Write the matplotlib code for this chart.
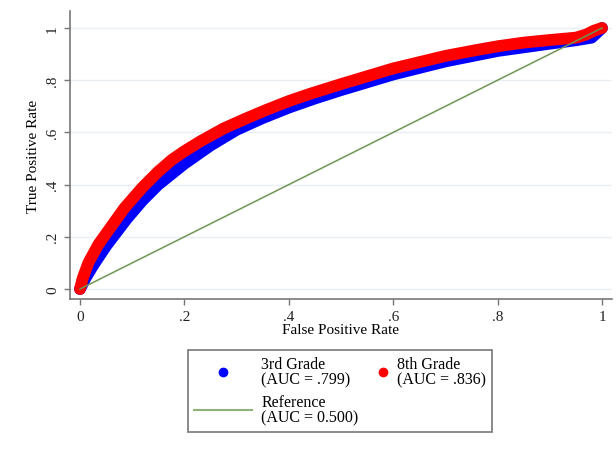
import numpy as np
import matplotlib as mpl
mpl.use('Agg')
import matplotlib.pyplot as plt
from matplotlib.lines import Line2D
from matplotlib.legend_handler import HandlerLine2D

# ROC points for each grade (false positive rate, true positive rate)
fpr_3rd = [0.0, 0.01, 0.025, 0.05, 0.09, 0.12, 0.15, 0.20, 0.25, 0.30, 0.35, 0.40,
           0.45, 0.50, 0.60, 0.70, 0.80, 0.90, 0.95, 0.98, 1.0]
tpr_3rd = [0.0, 0.04, 0.09, 0.165, 0.27, 0.34, 0.40, 0.48, 0.55, 0.61, 0.655, 0.695,
           0.73, 0.762, 0.822, 0.872, 0.912, 0.94, 0.953, 0.963, 1.0]

fpr_8th = [0.0, 0.005, 0.016, 0.035, 0.06, 0.085, 0.12, 0.15, 0.176, 0.20, 0.23, 0.275,
           0.32, 0.358, 0.40, 0.441, 0.50, 0.60, 0.70, 0.75, 0.80, 0.85, 0.90, 0.95,
           0.97, 0.985, 1.0]
tpr_8th = [0.0, 0.04, 0.10, 0.17, 0.24, 0.31, 0.39, 0.45, 0.495, 0.528, 0.565, 0.615,
           0.655, 0.687, 0.72, 0.748, 0.785, 0.845, 0.893, 0.912, 0.93, 0.944, 0.954, 0.963,
           0.975, 0.99, 1.0]

ref_x = [0.0, 1.0]
ref_y = [0.0, 1.0]

labels = ['3rd Grade\n(AUC = .799)', 'Reference\n(AUC = 0.500)', '8th Grade\n(AUC = .836)']
ticks = [0, 0.2, 0.4, 0.6, 0.8, 1.0]
tick_labels = ['0', '.2', '.4', '.6', '.8', '1']

plt.rcParams['font.family'] = ['Liberation Serif', 'DejaVu Serif']
green = '#6f9455'


class HandlerDotRight(HandlerLine2D):
    # put the single marker at the right end of the handle box
    def get_xdata(self, legend, xdescent, ydescent, width, height, fontsize):
        xm = -xdescent + width - self._marker_pad * fontsize
        return np.array([xm, xm]), np.array([xm])


fig = plt.figure(figsize=(6.16, 4.52), dpi=100)
ax = fig.add_axes([70/616, 1 - 300/452, 542/616, 288/452])

ax.plot(fpr_3rd, tpr_3rd, color='#0000ff', lw=8.5, solid_capstyle='round', solid_joinstyle='round', zorder=3)
ax.plot(fpr_8th, tpr_8th, color='#ff0000', lw=8.5, solid_capstyle='round', solid_joinstyle='round', zorder=4)
ax.plot(ref_x, ref_y, color=green, lw=1.1, zorder=5)

ax.set_xlim(-10/522, 532/522)
ax.set_ylim(-10/261, 278/261)
ax.set_xticks(ticks)
ax.set_xticklabels(tick_labels)
ax.set_yticks(ticks)
ax.set_yticklabels(tick_labels, rotation=90, va='center')
ax.tick_params(direction='out', length=4, width=1, color='#777777', labelsize=11, labelcolor='#222222', pad=4)
ax.grid(axis='y', color='#e8eef2', lw=1)
ax.set_axisbelow(True)
for s in ['top', 'right']:
    ax.spines[s].set_visible(False)
for s in ['left', 'bottom']:
    ax.spines[s].set_color('#777777')
    ax.spines[s].set_linewidth(1.2)

ax.set_xlabel('False Positive Rate', fontsize=11, labelpad=0)
ax.set_ylabel('True Positive Rate', fontsize=11, labelpad=4)

h3 = Line2D([], [], color='#0000ff', marker='o', ms=6, ls='none')
href = Line2D([], [], color='#8fb27a', lw=1.5)
h8 = Line2D([], [], color='#ff0000', marker='o', ms=6, ls='none')

leg = fig.legend([h3, href, h8], labels, loc='upper left',
                 bbox_to_anchor=(188/616, 1 - 351/452), ncol=2, fontsize=11.5,
                 handlelength=3.6, handletextpad=0.6, columnspacing=-1.8,
                 labelspacing=0.4, borderpad=0.4, borderaxespad=0,
                 frameon=True, fancybox=False,
                 handler_map={h8: HandlerDotRight()})
leg.get_frame().set_edgecolor('#555555')
leg.get_frame().set_linewidth(1.2)
for t in leg.get_texts():
    t.set_linespacing(0.95)

fig.savefig('out.png', dpi=100)
